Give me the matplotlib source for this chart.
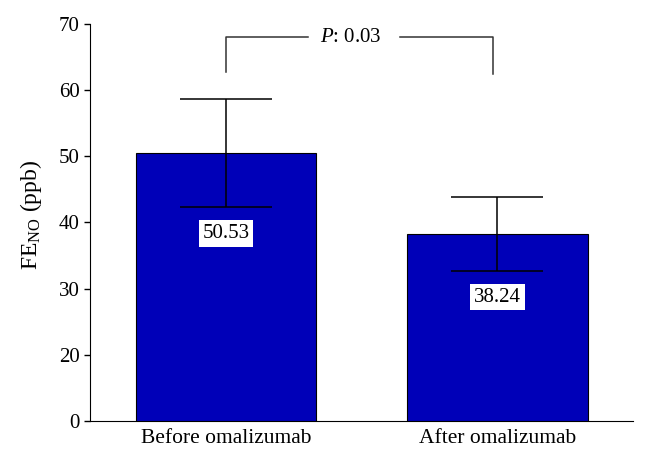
import matplotlib
matplotlib.use("Agg")
import matplotlib.pyplot as plt

# Datos
grupos = ["Before omalizumab", "After omalizumab"]
medias = [50.53, 38.24]
error_sup = [58.7, 43.9]
error_inf = [42.3, 32.7]
etiquetas = ["50.53", "38.24"]
# el eje original arranca en 10 pero la marca inferior dice "0"
ticks_y = [10, 20, 30, 40, 50, 60, 70]
ticks_y_txt = ["0", "20", "30", "40", "50", "60", "70"]
p_texto = r"$P$: 0.03"
corchete_alto = 68.0
corchete_pies = [62.8, 62.4]

plt.rcParams["font.family"] = "Liberation Serif"
plt.rcParams["mathtext.fontset"] = "custom"
plt.rcParams["mathtext.rm"] = "Liberation Serif"
plt.rcParams["mathtext.it"] = "Liberation Serif:italic"

fig = plt.figure(figsize=(6.48, 4.61), dpi=100)
ax = fig.add_axes([0.139, 0.087, 0.838, 0.861])

x = [0, 1]
ax.bar(x, medias, width=0.665, color="#0000B8", edgecolor="black", linewidth=0.8, zorder=2)

err_bajo = [m - e for m, e in zip(medias, error_inf)]
err_alto = [e - m for m, e in zip(medias, error_sup)]
ax.errorbar(x, medias, yerr=[err_bajo, err_alto], fmt="none", ecolor="black",
            elinewidth=1.1, capsize=33, capthick=1.1, zorder=3)

for xi, inf, txt in zip(x, error_inf, etiquetas):
    ax.annotate(txt, (xi, inf), xytext=(0, -19), textcoords="offset points",
                ha="center", va="center", fontsize=15, zorder=4,
                bbox=dict(boxstyle="square,pad=0.18", fc="white", ec="none"))

# Corchete de significancia
col = "#333333"
ax.plot([x[0], x[0], 0.302], [corchete_pies[0], corchete_alto, corchete_alto], color=col, lw=1.1)
ax.plot([0.641, x[1] - 0.016, x[1] - 0.016], [corchete_alto, corchete_alto, corchete_pies[1]], color=col, lw=1.1)
ax.text(0.46, corchete_alto, p_texto, ha="center", va="center", fontsize=15)

ax.set_xlim(-0.5, 1.5)
ax.set_ylim(10, 70)
ax.set_yticks(ticks_y)
ax.set_yticklabels(ticks_y_txt)
ax.set_xticks(x)
ax.set_xticklabels(grupos)
ax.tick_params(axis="y", direction="out", length=4.5, width=1, labelsize=15, pad=3)
ax.tick_params(axis="x", length=0, labelsize=15.5, pad=6)
ax.spines["top"].set_visible(False)
ax.spines["right"].set_visible(False)
ax.set_ylabel(r"FE$_{\mathrm{NO}}$ (ppb)", fontsize=17)
ax.yaxis.set_label_coords(-0.085, 0.52)

fig.savefig("out.png", dpi=100)
